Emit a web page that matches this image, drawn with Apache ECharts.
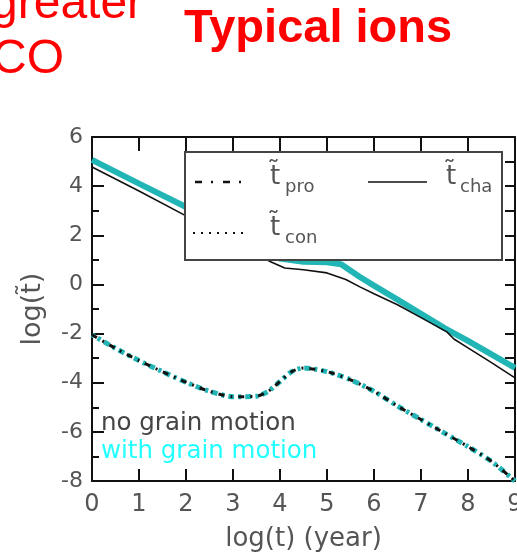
<!DOCTYPE html>
<html>
<head>
<meta charset="utf-8">
<script src="https://cdn.jsdelivr.net/npm/echarts@6/dist/echarts.min.js"></script>
<style>
  html, body { margin: 0; padding: 0; background: #fff; }
  #chart { width: 517px; height: 554px; }
</style>
</head>
<body>
<div id="chart"></div>
<script>
// log(t) in years, shared by the timescale curves
const chaX        = [0, 1, 2, 3, 3.8, 4.1, 4.5, 5, 5.4, 5.7, 6, 6.5, 7, 7.55, 7.7, 8, 8.5, 9];
// charging timescale, no grain motion (black)
const chaNoMotion = [4.78, 3.8, 2.79, 1.78, 0.92, 0.67, 0.6, 0.47, 0.2, -0.1, -0.38, -0.83, -1.35, -1.93, -2.22, -2.58, -3.18, -3.8];

const chaMotionX  = [0, 1, 2, 3, 3.5, 4, 4.5, 5, 5.3, 5.7, 6, 6.5, 7, 7.5, 8, 8.5, 9];
// charging timescale, with grain motion (cyan)
const chaMotion   = [5.07, 4.1, 3.15, 2.2, 1.65, 1.05, 0.92, 0.9, 0.82, 0.3, -0.05, -0.62, -1.2, -1.78, -2.3, -2.85, -3.4];

const proX        = [0, 0.5, 1, 1.5, 2, 2.5, 3, 3.5, 3.75, 4, 4.25, 4.5, 5, 5.5, 6, 6.5, 7, 7.5, 8, 8.5, 9];
// production timescale (both cases nearly coincide)
const proNoMotion = [-2.05, -2.6, -3.1, -3.55, -3.98, -4.35, -4.57, -4.55, -4.35, -3.95, -3.55, -3.4, -3.55, -3.88, -4.35, -4.95, -5.5, -6.05, -6.6, -7.2, -8.0];
const proMotion   = [-2.05, -2.6, -3.1, -3.55, -3.98, -4.35, -4.57, -4.55, -4.35, -3.95, -3.55, -3.4, -3.55, -3.88, -4.35, -4.95, -5.5, -6.05, -6.6, -7.2, -8.0];

const xTicks = [0, 1, 2, 3, 4, 5, 6, 7, 8, 9];
const yTicks = [-8, -6, -4, -2, 0, 2, 4, 6];

const pair = (xs, ys) => xs.map((x, i) => [x, ys[i]]);

const FONT = 'DejaVu Sans';
const TEXT_GREY = '#555';
const CYAN_LINE = '#22b5b5';

const chart = echarts.init(document.getElementById('chart'), null, { renderer: 'canvas' });

const tickLineStyle = { color: '#111', width: 2 };

chart.setOption({
  animation: false,
  backgroundColor: '#fff',
  grid: { left: 92, right: 2, top: 137, bottom: 73, containLabel: false, outerBoundsMode: 'none' },
  xAxis: [
    {
      type: 'value', position: 'bottom',
      min: xTicks[0], max: xTicks[xTicks.length - 1], interval: 1,
      name: 'log(t) (year)', nameLocation: 'middle', nameGap: 45,
      nameTextStyle: { fontFamily: FONT, fontSize: 26, color: TEXT_GREY },
      axisLine: { show: true, onZero: false, lineStyle: { color: '#111', width: 2 } },
      axisTick: { show: true, inside: true, length: 12, lineStyle: tickLineStyle },
      axisLabel: { show: true, margin: 12, fontFamily: FONT, fontSize: 24, color: TEXT_GREY, showMaxLabel: true, showMinLabel: true, hideOverlap: false },
      splitLine: { show: false }
    },
    {
      type: 'value', position: 'top',
      min: xTicks[0], max: xTicks[xTicks.length - 1], interval: 1,
      axisLine: { show: true, onZero: false, lineStyle: { color: '#111', width: 2 } },
      axisTick: { show: true, inside: true, length: 14, lineStyle: tickLineStyle },
      axisLabel: { show: false },
      splitLine: { show: false }
    }
  ],
  yAxis: [
    {
      type: 'value', position: 'left',
      min: yTicks[0], max: yTicks[yTicks.length - 1], interval: 2,
      name: 'log(t\u0303)', nameLocation: 'middle', nameGap: 46, nameRotate: 90,
      nameTextStyle: { fontFamily: FONT, fontSize: 27, color: TEXT_GREY },
      axisLine: { show: true, onZero: false, lineStyle: { color: '#111', width: 2 } },
      axisTick: { show: true, inside: true, length: 12, lineStyle: tickLineStyle },
      minorTick: { show: true, splitNumber: 2, length: 7, lineStyle: { color: '#111', width: 2 } },
      axisLabel: { show: true, margin: 9, fontFamily: FONT, fontSize: 22, color: TEXT_GREY },
      splitLine: { show: false },
      minorSplitLine: { show: false }
    },
    {
      type: 'value', position: 'right',
      min: yTicks[0], max: yTicks[yTicks.length - 1], interval: 1,
      axisLine: { show: true, onZero: false, lineStyle: { color: '#111', width: 2 } },
      axisTick: { show: true, inside: true, length: 10, lineStyle: tickLineStyle },
      axisLabel: { show: false },
      splitLine: { show: false }
    }
  ],
  series: [
    {
      name: 'cha with grain motion', type: 'line', xAxisIndex: 0, yAxisIndex: 0,
      data: pair(chaMotionX, chaMotion), showSymbol: false, symbol: 'none',
      lineStyle: { color: CYAN_LINE, width: 6 }, z: 2
    },
    {
      name: 'cha no grain motion', type: 'line', xAxisIndex: 0, yAxisIndex: 0,
      data: pair(chaX, chaNoMotion), showSymbol: false, symbol: 'none',
      lineStyle: { color: '#111', width: 1.6 }, z: 3
    },
    {
      name: 'pro with grain motion', type: 'line', xAxisIndex: 0, yAxisIndex: 0,
      data: pair(proX, proMotion), showSymbol: false, symbol: 'none', smooth: 0.25,
      lineStyle: { color: CYAN_LINE, width: 5, type: [6, 4, 3, 4], dashOffset: 3 }, z: 2
    },
    {
      name: 'pro no grain motion', type: 'line', xAxisIndex: 0, yAxisIndex: 0,
      data: pair(proX, proNoMotion), showSymbol: false, symbol: 'none', smooth: 0.25,
      lineStyle: { color: '#111', width: 3, type: [6, 6, 2, 6] }, z: 3
    }
  ],
  graphic: [
    // slide heading fragments
    { type: 'text', left: -9, top: -19, z: 100,
      style: { text: 'greater', font: '48px "Liberation Sans"', fill: '#ff0000' } },
    { type: 'text', left: -8, top: 36, z: 100,
      style: { text: 'CO', font: '48px "Liberation Sans"', fill: '#ff0000' } },
    { type: 'text', left: 184, top: 6, z: 100,
      style: { text: 'Typical ions', font: 'bold 47px "Liberation Sans"', fill: '#ff0000' } },

    // legend box
    { type: 'rect', z: 100, shape: { x: 185, y: 152, width: 317, height: 108 },
      style: { fill: '#fff', stroke: '#444', lineWidth: 2 } },
    { type: 'line', z: 101, shape: { x1: 195, y1: 182, x2: 246, y2: 182 },
      style: { stroke: '#111', lineWidth: 2.5, lineDash: [7, 9, 2, 10] } },
    { type: 'line', z: 101, shape: { x1: 368, y1: 182, x2: 427, y2: 182 },
      style: { stroke: '#111', lineWidth: 1.5 } },
    { type: 'line', z: 101, shape: { x1: 193, y1: 233, x2: 249, y2: 233 },
      style: { stroke: '#111', lineWidth: 2, lineDash: [2, 6] } },

    { type: 'text', z: 101, x: 270, y: 164,
      style: { text: 't\u0303', font: '26px "DejaVu Sans"', fill: TEXT_GREY } },
    { type: 'text', z: 101, x: 285, y: 178,
      style: { text: 'pro', font: '18px "DejaVu Sans"', fill: TEXT_GREY } },
    { type: 'text', z: 101, x: 446, y: 164,
      style: { text: 't\u0303', font: '26px "DejaVu Sans"', fill: TEXT_GREY } },
    { type: 'text', z: 101, x: 460, y: 178,
      style: { text: 'cha', font: '18px "DejaVu Sans"', fill: TEXT_GREY } },
    { type: 'text', z: 101, x: 270, y: 215,
      style: { text: 't\u0303', font: '26px "DejaVu Sans"', fill: TEXT_GREY } },
    { type: 'text', z: 101, x: 285, y: 229,
      style: { text: 'con', font: '18px "DejaVu Sans"', fill: TEXT_GREY } },

    // case annotations
    { type: 'text', z: 100, x: 101, y: 411,
      style: { text: 'no grain motion', font: '24.5px "DejaVu Sans"', fill: '#444' } },
    { type: 'text', z: 100, x: 101, y: 439,
      style: { text: 'with grain motion', font: '24.5px "DejaVu Sans"', fill: '#22ffff' } }
  ]
});
</script>
</body>
</html>
